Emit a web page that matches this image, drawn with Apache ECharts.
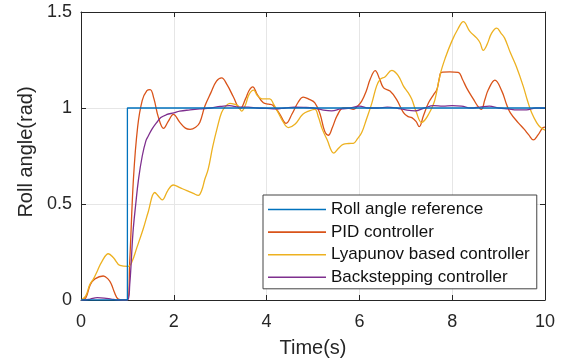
<!DOCTYPE html>
<html>
<head>
<meta charset="utf-8">
<script src="https://cdn.jsdelivr.net/npm/echarts@6/dist/echarts.min.js"></script>
<style>
  html, body { margin: 0; padding: 0; background: #fff; }
  #chart { width: 571px; height: 363px; }
</style>
</head>
<body>
<div id="chart"></div>
<script>
// Roll angle responses of three controllers to a unit step reference at t = 1 s
const xTicks = [0, 2, 4, 6, 8, 10];
const yTicks = [0, 0.5, 1, 1.5];

const refTime = [0, 1, 1, 10];
const refRoll = [0, 0, 1, 1];

const pidTime = [0, 0.1, 0.2, 0.3, 0.48, 0.58, 0.65, 0.72, 0.8, 0.9, 1.0, 1.05, 1.13, 1.22, 1.32, 1.42, 1.49, 1.57, 1.67, 1.78, 1.88, 1.99, 2.13, 2.25, 2.35, 2.47, 2.56, 2.67, 2.8, 2.92, 3.03, 3.15, 3.28, 3.43, 3.55, 3.62, 3.7, 3.8, 3.93, 4.05, 4.14, 4.28, 4.42, 4.55, 4.68, 4.79, 4.92, 5.04, 5.15, 5.25, 5.33, 5.42, 5.52, 5.65, 5.75, 5.87, 5.96, 6.05, 6.15, 6.23, 6.34, 6.44, 6.52, 6.66, 6.8, 6.95, 7.05, 7.13, 7.22, 7.29, 7.38, 7.49, 7.6, 7.67, 7.72, 7.77, 7.95, 8.13, 8.22, 8.31, 8.46, 8.55, 8.63, 8.7, 8.78, 8.92, 9.07, 9.17, 9.25, 9.42, 9.55, 9.65, 9.75, 9.85, 9.96, 10];
const pidRoll = [0, 0.01, 0.08, 0.11, 0.125, 0.11, 0.085, 0.04, 0.005, 0, 0, 0.2, 0.63, 0.9, 1.04, 1.09, 1.096, 1.05, 0.95, 0.894, 0.93, 0.967, 0.925, 0.895, 0.889, 0.9, 0.925, 1.01, 1.08, 1.14, 1.157, 1.12, 1.06, 0.996, 1.05, 1.09, 1.11, 1.07, 1.027, 1.02, 1.013, 0.97, 0.92, 0.97, 1.03, 1.057, 1.045, 1.027, 0.97, 0.88, 0.858, 0.9, 0.96, 1.0, 1.0, 0.993, 1.01, 1.036, 1.09, 1.148, 1.195, 1.148, 1.105, 1.088, 1.045, 0.976, 0.955, 0.95, 0.93, 0.903, 0.96, 1.027, 1.07, 1.096, 1.15, 1.186, 1.188, 1.186, 1.15, 1.105, 1.045, 1.01, 0.993, 1.04, 1.096, 1.145, 1.088, 1.02, 0.976, 0.924, 0.89, 0.86, 0.834, 0.86, 0.898, 0.9];

const lyaTime = [0, 0.1, 0.19, 0.27, 0.35, 0.45, 0.59, 0.7, 0.84, 1.02, 1.1, 1.2, 1.34, 1.45, 1.59, 1.67, 1.75, 1.87, 1.99, 2.13, 2.28, 2.42, 2.53, 2.6, 2.67, 2.74, 2.84, 2.94, 3.03, 3.12, 3.21, 3.3, 3.39, 3.46, 3.55, 3.62, 3.72, 3.8, 3.9, 4.07, 4.15, 4.25, 4.35, 4.47, 4.61, 4.78, 4.92, 5.04, 5.12, 5.2, 5.3, 5.45, 5.55, 5.65, 5.77, 5.87, 5.96, 6.05, 6.15, 6.27, 6.37, 6.45, 6.55, 6.7, 6.8, 6.88, 6.95, 7.05, 7.13, 7.23, 7.34, 7.42, 7.49, 7.56, 7.63, 7.74, 7.85, 7.99, 8.12, 8.24, 8.38, 8.53, 8.6, 8.67, 8.75, 8.85, 8.96, 9.05, 9.13, 9.25, 9.38, 9.53, 9.62, 9.71, 9.82, 9.9, 10];
const lyaRoll = [0, 0.02, 0.08, 0.11, 0.15, 0.2, 0.241, 0.22, 0.18, 0.175, 0.2, 0.27, 0.37, 0.46, 0.56, 0.54, 0.521, 0.57, 0.599, 0.585, 0.57, 0.555, 0.545, 0.57, 0.63, 0.68, 0.8, 0.9, 0.976, 1.01, 1.024, 1.02, 1.01, 0.984, 1.02, 1.07, 1.093, 1.065, 1.048, 1.048, 1.02, 0.976, 0.93, 0.898, 0.915, 0.967, 0.985, 0.993, 0.95, 0.89, 0.837, 0.765, 0.79, 0.811, 0.815, 0.816, 0.84, 0.872, 0.94, 1.027, 1.114, 1.15, 1.162, 1.196, 1.18, 1.15, 1.114, 1.08, 1.045, 0.976, 0.924, 0.94, 0.967, 1.0, 1.045, 1.174, 1.26, 1.347, 1.41, 1.45, 1.399, 1.364, 1.34, 1.3, 1.33, 1.39, 1.416, 1.39, 1.364, 1.29, 1.217, 1.114, 1.04, 0.976, 0.924, 0.9, 0.885];

const bsTime = [0, 0.1, 0.2, 0.35, 0.5, 0.65, 0.8, 1.0, 1.05, 1.12, 1.18, 1.24, 1.32, 1.4, 1.45, 1.53, 1.63, 1.72, 1.84, 2.0, 2.13, 2.35, 2.56, 2.8, 3.0, 3.2, 3.4, 3.6, 3.8, 4.0, 4.2, 4.4, 4.6, 4.8, 5.0, 5.2, 5.4, 5.6, 5.8, 6.0, 6.2, 6.4, 6.6, 6.8, 7.0, 7.2, 7.4, 7.6, 7.8, 8.0, 8.2, 8.4, 8.6, 8.8, 9.0, 9.2, 9.4, 9.6, 9.8, 10];
const bsRoll = [0, 0, 0.005, 0.012, 0.01, 0.005, 0, 0, 0.08, 0.35, 0.5, 0.63, 0.75, 0.83, 0.854, 0.89, 0.924, 0.95, 0.965, 0.975, 0.984, 0.99, 0.995, 1.0, 1.008, 1.012, 1.005, 1.005, 1.0, 0.998, 0.995, 1.0, 1.004, 1.003, 1.0, 0.99, 0.985, 0.995, 1.0, 1.01, 1.0, 1.0, 1.005, 1.0, 0.99, 0.985, 1.0, 1.012, 1.01, 1.012, 1.01, 1.0, 1.005, 1.01, 1.0, 0.995, 0.99, 0.99, 1.0, 1.0];

const pairs = (t, v) => t.map((x, i) => [x, v[i]]);

const FONT = '"Liberation Sans", Arial, sans-serif';
const INK = '#262626';

function boxAxis(extra) {
  return Object.assign({
    type: 'value',
    axisLine: { show: true, onZero: false, lineStyle: { color: INK, width: 1 } },
    axisTick: { show: true, inside: true, length: 5, lineStyle: { color: INK } },
    axisLabel: { show: false },
    splitLine: { show: false }
  }, extra);
}

const chart = echarts.init(document.getElementById('chart'), null, { renderer: 'canvas' });
chart.setOption({
  animation: false,
  backgroundColor: '#ffffff',
  grid: { left: 81, right: 26, top: 12, bottom: 62, containLabel: false },
  legend: {
    orient: 'vertical',
    left: 263,
    top: 195,
    backgroundColor: '#ffffff',
    borderColor: '#444444',
    borderWidth: 1,
    borderRadius: 0,
    padding: [6, 7, 3, 5],
    itemGap: 5.6,
    itemWidth: 58,
    itemHeight: 1.6,
    icon: 'rect',
    textStyle: { fontFamily: FONT, fontSize: 17, color: '#111', lineHeight: 17 },
    data: ['Roll angle reference', 'PID controller', 'Lyapunov based controller', 'Backstepping controller']
  },
  xAxis: [
    boxAxis({
      position: 'bottom', min: 0, max: 10, interval: 2,
      name: 'Time(s)', nameLocation: 'middle', nameGap: 38,
      nameTextStyle: { fontFamily: FONT, fontSize: 20, color: INK },
      axisLabel: { show: true, fontFamily: FONT, fontSize: 18, color: INK, margin: 13 },
      splitLine: { show: true, lineStyle: { color: '#e6e6e6', width: 1 } }
    }),
    boxAxis({ position: 'top', min: 0, max: 10, interval: 2 })
  ],
  yAxis: [
    boxAxis({
      position: 'left', min: 0, max: 1.5, interval: 0.5,
      name: 'Roll angle(rad)', nameLocation: 'middle', nameGap: 44,
      nameTextStyle: { fontFamily: FONT, fontSize: 20, color: INK, padding: [0, 0, 0, 8] },
      axisLabel: { show: true, fontFamily: FONT, fontSize: 18, color: INK, margin: 9,
        formatter: v => String(v) },
      splitLine: { show: true, lineStyle: { color: '#e6e6e6', width: 1 } }
    }),
    boxAxis({ position: 'right', min: 0, max: 1.5, interval: 0.5 })
  ],
  series: [
    { name: 'Roll angle reference', type: 'line', data: pairs(refTime, refRoll),
      showSymbol: false, symbol: 'none', color: '#0072BD', lineStyle: { width: 1.3 }, z: 3 },
    { name: 'PID controller', type: 'line', data: pairs(pidTime, pidRoll), smooth: 0.4,
      showSymbol: false, symbol: 'none', color: '#D95319', lineStyle: { width: 1.3 }, z: 2 },
    { name: 'Lyapunov based controller', type: 'line', data: pairs(lyaTime, lyaRoll), smooth: 0.4,
      showSymbol: false, symbol: 'none', color: '#EDB120', lineStyle: { width: 1.3 }, z: 2 },
    { name: 'Backstepping controller', type: 'line', data: pairs(bsTime, bsRoll), smooth: 0.4,
      showSymbol: false, symbol: 'none', color: '#7E2F8E', lineStyle: { width: 1.3 }, z: 2 }
  ]
});
</script>
</body>
</html>
